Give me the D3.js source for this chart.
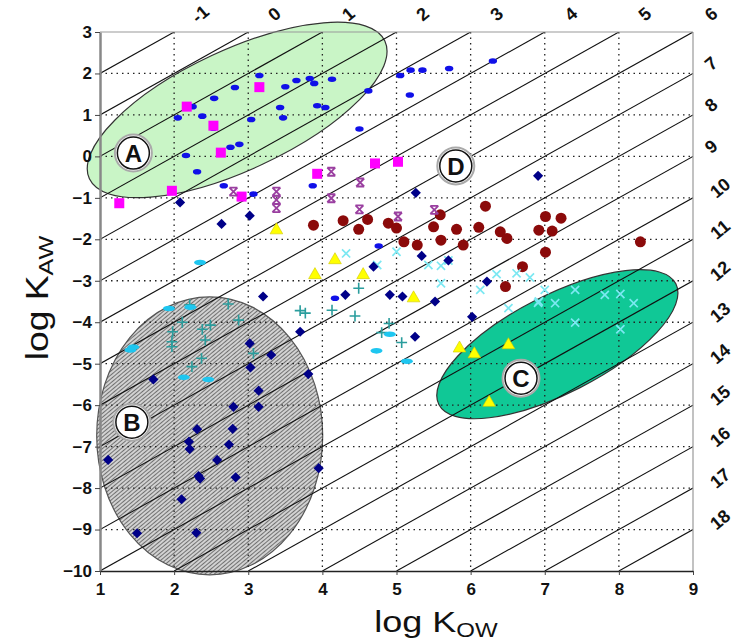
<!DOCTYPE html>
<html>
<head>
<meta charset="utf-8">
<script src="https://cdn.jsdelivr.net/npm/d3@7"></script>
<style>
  body { margin: 0; background: #fff; }
  svg { font-family: "Liberation Sans", Arial, sans-serif; }
</style>
</head>
<body>
<script>
// log Kow / log Kaw pairs per compound class
const blueDash = [[3.15,1.95],[2.82,1.66],[2.54,1.40],[2.25,1.20],[2.05,0.93],[2.38,0.97],[2.53,0.68],[3.04,0.89],
  [3.43,1.18],[3.47,0.93],[3.50,1.68],[3.65,1.83],[3.83,1.88],[3.89,1.76],[2.76,0.22],[2.88,0.29],[2.16,0.02],
  [2.31,-0.37],[4.13,1.86],[4.62,1.58],[3.93,1.22],[4.04,1.18],[4.50,0.66],[5.05,1.95],[5.19,2.08],[5.35,2.08],
  [5.71,2.12],[5.18,1.48],[6.30,2.30],[2.67,-0.71],[3.07,-0.91],[3.87,-0.71],[4.76,-2.16],[4.17,-3.42]];
const magentaSq = [[2.17,1.20],[3.15,1.67],[2.53,0.74],[2.63,0.09],[4.71,-0.17],[5.02,-0.13],[3.93,-0.42],
  [1.26,-1.13],[1.97,-0.83],[2.91,-0.97]];
const navyDiamond = [[2.08,-1.11],[2.64,-1.63],[3.02,-1.43],[3.20,-3.38],[5.26,-0.88],[5.34,-2.40],[5.70,-2.51],
  [4.69,-2.66],[6.22,-3.02],[4.31,-3.34],[4.91,-3.34],[5.08,-3.38],[5.52,-3.50],[6.02,-3.87],[6.91,-0.47],
  [5.25,-4.35],[3.70,-4.23],[3.81,-5.25],[3.02,-4.51],[3.31,-4.79],[3.03,-5.09],[1.72,-5.38],[3.14,-5.65],
  [2.80,-6.04],[3.14,-6.04],[2.31,-6.58],[2.79,-6.57],[2.20,-6.88],[2.21,-7.06],[2.74,-6.95],[1.11,-7.32],
  [2.58,-7.32],[2.33,-7.71],[2.35,-7.77],[2.83,-7.74],[3.95,-7.52],[2.10,-8.27],[1.50,-9.09],[2.30,-9.08]];
const purpleBow = [[2.80,-0.85],[3.38,-0.85],[3.38,-1.05],[3.38,-1.25],[4.12,-0.37],[4.51,-0.63],[4.12,-1.01],
  [4.50,-1.28],[5.02,-1.45],[5.51,-1.29]];
const darkRed = [[3.88,-1.66],[4.28,-1.55],[4.61,-1.52],[4.49,-1.76],[4.89,-1.61],[5.00,-1.73],[5.10,-2.06],
  [5.28,-2.14],[5.59,-1.41],[5.50,-1.70],[5.60,-2.02],[5.81,-1.76],[5.90,-2.14],[6.11,-1.71],[6.20,-1.20],
  [6.40,-1.82],[6.49,-1.98],[6.47,-3.14],[7.01,-1.45],[7.22,-1.49],[6.92,-1.78],[7.10,-1.80],[7.01,-2.31],
  [6.70,-2.66],[8.29,-2.06]];
const yellowTri = [[3.38,-1.78],[4.17,-2.50],[3.90,-2.86],[4.55,-2.86],[5.23,-3.42],[5.85,-4.63],[6.05,-4.77],
  [6.25,-5.94],[6.51,-4.55]];
const cyanX = [[4.32,-2.34],[5.00,-2.30],[4.74,-2.62],[5.43,-2.62],[5.60,-2.64],[5.60,-3.06],[6.13,-3.22],
  [6.35,-2.84],[5.70,-2.51],[6.62,-2.82],[6.80,-2.92],[7.00,-3.22],[6.92,-3.50],[6.51,-3.66],[7.41,-3.22],
  [7.81,-3.34],[8.02,-3.32],[8.20,-3.54],[6.91,-3.53],[7.14,-3.54],[7.41,-4.01],[8.02,-4.17]];
const tealPlus = [[4.49,-3.18],[4.13,-3.71],[4.44,-3.85],[3.77,-3.78],[3.70,-3.72],[4.90,-4.03],[4.80,-4.25],
  [5.07,-4.49],[2.11,-4.00],[1.98,-4.23],[1.97,-4.47],[1.97,-4.59],[2.38,-4.17],[2.49,-4.07],[2.42,-4.43],
  [2.37,-4.87],[2.24,-5.07],[2.21,-3.58],[2.73,-3.56],[2.87,-3.95],[3.07,-4.75]];
const cyanDash = [[2.35,-2.56],[1.93,-3.67],[2.22,-3.64],[1.41,-4.67],[1.45,-4.60],[2.13,-5.33],[2.46,-5.38],
  [4.91,-4.29],[4.73,-4.69],[5.14,-4.94]];

const kowTicks = [1,2,3,4,5,6,7,8,9];
const kawTicks = [-10,-9,-8,-7,-6,-5,-4,-3,-2,-1,0,1,2,3];
const koaLines = d3.range(-1, 19); // log Koa isolines, -1 .. 18

// region labels (letter, log Kow, log Kaw)
const regions = [["A",1.45,0.08],["B",1.43,-6.41],["C",6.68,-5.35],["D",5.80,-0.23]];
// region ellipses: centre in data units
const zoneA = [2.85, 1.12], zoneB = [2.48, -6.74], zoneC = [7.17, -4.53];

const width = 738, height = 643;
const x = d3.scaleLinear().domain([1, 9]).range([100, 693]);
const y = d3.scaleLinear().domain([-10, 3]).range([571, 32]);

const svg = d3.select("body").append("svg")
  .attr("width", width).attr("height", height);

const defs = svg.append("defs");
const hatch = defs.append("pattern").attr("id", "hatch")
  .attr("patternUnits", "userSpaceOnUse").attr("width", 3).attr("height", 3)
  .attr("patternTransform", "rotate(-40)");
hatch.append("rect").attr("width", 3).attr("height", 3).attr("fill", "#d2d2d2");
hatch.append("line").attr("x1", 0).attr("y1", 1.5).attr("x2", 3).attr("y2", 1.5)
  .attr("stroke", "#666").attr("stroke-width", 0.9);
defs.append("clipPath").attr("id", "plot").append("rect")
  .attr("x", x(1)).attr("y", y(3)).attr("width", x(9) - x(1)).attr("height", y(-10) - y(3));

// zones
svg.append("ellipse")
  .attr("transform", `translate(${x(zoneA[0])},${y(zoneA[1])}) rotate(-25)`)
  .attr("rx", 163).attr("ry", 60)
  .attr("fill", "#c9f5c6").attr("stroke", "#333").attr("stroke-width", 1.2);
svg.append("ellipse")
  .attr("cx", x(zoneB[0])).attr("cy", y(zoneB[1]))
  .attr("rx", 113).attr("ry", 139)
  .attr("fill", "url(#hatch)").attr("stroke", "#555").attr("stroke-width", 1.2);
svg.append("ellipse")
  .attr("transform", `translate(${x(zoneC[0])},${y(zoneC[1])}) rotate(-27)`)
  .attr("rx", 133).attr("ry", 49)
  .attr("fill", "#10c896").attr("stroke", "#333").attr("stroke-width", 1.2);

// dotted grid
const grid = svg.append("g").attr("stroke", "#222").attr("stroke-width", 1.3)
  .attr("stroke-dasharray", "1.5,4");
grid.selectAll(".gx").data(kowTicks.slice(1, -1)).join("line")
  .attr("x1", d => x(d)).attr("x2", d => x(d)).attr("y1", y(3)).attr("y2", y(-10));
grid.selectAll(".gy").data(kawTicks.slice(1, -1)).join("line")
  .attr("x1", x(1)).attr("x2", x(9)).attr("y1", d => y(d)).attr("y2", d => y(d));

// log Koa diagonals: Kaw = Kow - Koa
const diag = svg.append("g").attr("stroke", "#111").attr("stroke-width", 1.1)
  .attr("clip-path", "url(#plot)");
diag.selectAll("line").data(koaLines).join("line")
  .attr("x1", d => x(Math.max(1, d - 10))).attr("y1", d => y(Math.max(1, d - 10) - d))
  .attr("x2", d => x(Math.min(9, d + 3))).attr("y2", d => y(Math.min(9, d + 3) - d));

// frame
svg.append("line").attr("x1", x(1)).attr("x2", x(9)).attr("y1", y(3)).attr("y2", y(3))
  .attr("stroke", "#999").attr("stroke-width", 1.2);
svg.append("line").attr("x1", x(9)).attr("x2", x(9)).attr("y1", y(3)).attr("y2", y(-10))
  .attr("stroke", "#999").attr("stroke-width", 1.2);

const yAxis = svg.append("g").attr("transform", `translate(${x(1)},0)`)
  .call(d3.axisLeft(y).tickValues(kawTicks).tickSizeInner(5).tickSizeOuter(0).tickPadding(3));
yAxis.select(".domain").attr("stroke", "#888").attr("stroke-width", 2.5);
const xAxis = svg.append("g").attr("transform", `translate(0,${y(-10)})`)
  .call(d3.axisBottom(x).tickValues(kowTicks).tickSizeInner(4).tickSizeOuter(0).tickPadding(8));
xAxis.select(".domain").attr("stroke", "#222").attr("stroke-width", 1.5);
svg.selectAll(".tick text").attr("font-size", 17).attr("font-weight", "bold")
  .attr("font-family", "Liberation Sans, Arial, sans-serif").attr("fill", "#111");
svg.selectAll(".tick line").attr("stroke", "#444");

// Koa labels
const koaLab = svg.append("g").attr("font-size", 18).attr("font-weight", "bold")
  .attr("text-anchor", "middle").attr("fill", "#111");
koaLab.selectAll("text").data(koaLines.slice(0, 8)).join("text")
  .attr("transform", d => `translate(${x(d + 3) + (d === 6 ? 18 : 26)},${y(3) - 18}) rotate(-40)`)
  .attr("dy", "0.35em").text(d => d);
koaLab.selectAll(".r").data(koaLines.slice(8)).join("text")
  .attr("transform", d => `translate(${x(9) + (d < 10 ? 18 : 27)},${y(9 - d) - 10}) rotate(-40)`)
  .attr("dy", "0.35em").text(d => d);

// markers
const pts = svg.append("g");
pts.selectAll(".bd").data(blueDash).join("ellipse")
  .attr("cx", d => x(d[0])).attr("cy", d => y(d[1])).attr("rx", 4.2).attr("ry", 2.8)
  .attr("fill", "#1010e8");
pts.selectAll(".ms").data(magentaSq).join("rect")
  .attr("x", d => x(d[0]) - 5).attr("y", d => y(d[1]) - 5).attr("width", 10).attr("height", 10)
  .attr("fill", "#ff00ff");
pts.selectAll(".dr").data(darkRed).join("circle")
  .attr("cx", d => x(d[0])).attr("cy", d => y(d[1])).attr("r", 5.5)
  .attr("fill", "#8b0a0a");
pts.selectAll(".cx").data(cyanX).join("path")
  .attr("transform", d => `translate(${x(d[0])},${y(d[1])})`)
  .attr("d", d3.symbol(d3.symbolX, 45)).attr("fill", "none")
  .attr("stroke", "#7ce8f2").attr("stroke-width", 1.7);
pts.selectAll(".tp").data(tealPlus).join("path")
  .attr("transform", d => `translate(${x(d[0])},${y(d[1])})`)
  .attr("d", d3.symbol(d3.symbolPlus, 40)).attr("fill", "none")
  .attr("stroke", "#2a9d9d").attr("stroke-width", 1.6);
pts.selectAll(".cd").data(cyanDash).join("ellipse")
  .attr("cx", d => x(d[0])).attr("cy", d => y(d[1])).attr("rx", 6).attr("ry", 2.8)
  .attr("fill", "#1ec6f0");
pts.selectAll(".pb").data(purpleBow).join("path")
  .attr("transform", d => `translate(${x(d[0])},${y(d[1])})`)
  .attr("d", "M-4,-4H4M-4,4H4M-4,-4L4,4M4,-4L-4,4").attr("fill", "none")
  .attr("stroke", "#9a3fa0").attr("stroke-width", 1.8);
pts.selectAll(".yt").data(yellowTri).join("path")
  .attr("transform", d => `translate(${x(d[0])},${y(d[1])})`)
  .attr("d", d3.symbol(d3.symbolTriangle, 70)).attr("fill", "#ffff00")
  .attr("stroke", "#d0c800").attr("stroke-width", 0.6);
pts.selectAll(".nd").data(navyDiamond).join("path")
  .attr("transform", d => `translate(${x(d[0])},${y(d[1])}) rotate(45)`)
  .attr("d", d3.symbol(d3.symbolSquare, 52)).attr("fill", "#000088");

// region letters
const reg = svg.append("g").selectAll("g").data(regions).join("g")
  .attr("transform", d => `translate(${x(d[1])},${y(d[2])})`);
reg.append("circle").attr("r", 18.5).attr("fill", "#fff").attr("stroke", "#aaa").attr("stroke-width", 2);
reg.append("circle").attr("r", 16).attr("fill", "#fff").attr("stroke", "#111").attr("stroke-width", 1.5);
reg.append("text").attr("text-anchor", "middle").attr("dy", "0.36em")
  .attr("font-size", 24).attr("font-weight", "bold").attr("fill", "#111").text(d => d[0]);

// axis titles
const xt = svg.append("text").attr("transform", "translate(436,632) scale(1.2,1)")
  .attr("text-anchor", "middle").attr("font-size", 30).attr("fill", "#111");
xt.append("tspan").text("log K");
xt.append("tspan").attr("font-size", 20).attr("dy", 5).text("OW");
const yt = svg.append("text").attr("transform", "translate(48,298) rotate(-90) scale(1.2,1)")
  .attr("text-anchor", "middle").attr("font-size", 31).attr("fill", "#111");
yt.append("tspan").text("log K");
yt.append("tspan").attr("font-size", 21).attr("dy", 5).text("AW");
</script>
</body>
</html>
